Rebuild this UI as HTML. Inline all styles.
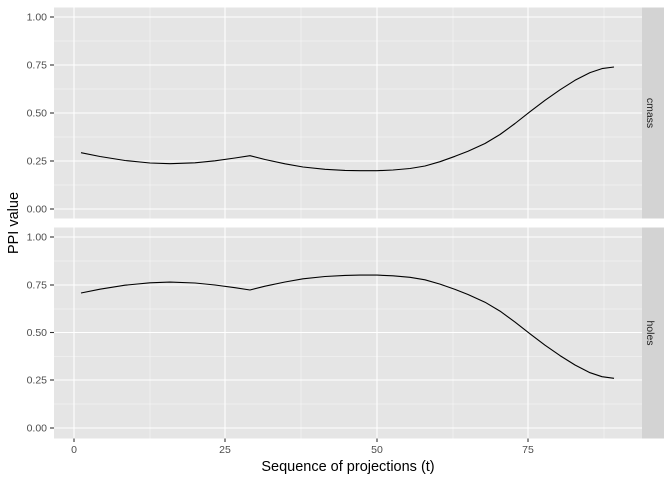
<!DOCTYPE html><html><head><style>body{margin:0;background:#fff}</style></head><body>
<svg width="672" height="480" xmlns="http://www.w3.org/2000/svg" font-family="Liberation Sans, sans-serif">
<rect width="672" height="480" fill="#fff"/>
<g id="p1">
<rect x="54" y="7.5" width="588" height="211" fill="#e5e5e5"/>
<g stroke="#f7f7f7" stroke-width="0.6">
<line x1="54" x2="642" y1="185" y2="185"/><line x1="54" x2="642" y1="137" y2="137"/><line x1="54" x2="642" y1="89" y2="89"/><line x1="54" x2="642" y1="41" y2="41"/>
<line y1="7.5" y2="218.5" x1="150" x2="150"/><line y1="7.5" y2="218.5" x1="301" x2="301"/><line y1="7.5" y2="218.5" x1="453" x2="453"/><line y1="7.5" y2="218.5" x1="604" x2="604"/>
</g>
<g stroke="#fff" stroke-width="1.1">
<line x1="54" x2="642" y1="209" y2="209"/><line x1="54" x2="642" y1="161" y2="161"/><line x1="54" x2="642" y1="113" y2="113"/><line x1="54" x2="642" y1="65" y2="65"/><line x1="54" x2="642" y1="17" y2="17"/>
<line y1="7.5" y2="218.5" x1="74" x2="74"/><line y1="7.5" y2="218.5" x1="225" x2="225"/><line y1="7.5" y2="218.5" x1="377" x2="377"/><line y1="7.5" y2="218.5" x1="528" x2="528"/>
</g>
<polyline fill="none" stroke="#000" stroke-width="1.1" stroke-linejoin="round" points="81,152.7 100,156.5 125,160.5 150,163 170,163.7 195,162.8 215,160.8 235,158 250,155.7 265,159.5 285,163.8 303,167 325,169.3 345,170.4 360,170.7 377,170.7 393,170 410,168.5 425,166 440,161.7 455,156.3 468,151.2 485,143.5 500,134.5 515,123.5 530,111.7 545,100.3 560,89.8 575,80.3 590,72.6 602,68.6 614,67"/>
<rect x="642" y="7.5" width="22" height="211" fill="#d3d3d3"/>
<text transform="translate(647,113) rotate(90)" text-anchor="middle" font-size="10.5" fill="#1a1a1a">cmass</text>
</g>
<g id="p2">
<rect x="54" y="227.5" width="588" height="211" fill="#e5e5e5"/>
<g stroke="#f7f7f7" stroke-width="0.6">
<line x1="54" x2="642" y1="404" y2="404"/><line x1="54" x2="642" y1="356.5" y2="356.5"/><line x1="54" x2="642" y1="309" y2="309"/><line x1="54" x2="642" y1="261" y2="261"/>
<line y1="227.5" y2="438.5" x1="150" x2="150"/><line y1="227.5" y2="438.5" x1="301" x2="301"/><line y1="227.5" y2="438.5" x1="453" x2="453"/><line y1="227.5" y2="438.5" x1="604" x2="604"/>
</g>
<g stroke="#fff" stroke-width="1.1">
<line x1="54" x2="642" y1="428" y2="428"/><line x1="54" x2="642" y1="380" y2="380"/><line x1="54" x2="642" y1="332.5" y2="332.5"/><line x1="54" x2="642" y1="285" y2="285"/><line x1="54" x2="642" y1="237" y2="237"/>
<line y1="227.5" y2="438.5" x1="74" x2="74"/><line y1="227.5" y2="438.5" x1="225" x2="225"/><line y1="227.5" y2="438.5" x1="377" x2="377"/><line y1="227.5" y2="438.5" x1="528" x2="528"/>
</g>
<polyline fill="none" stroke="#000" stroke-width="1.1" stroke-linejoin="round" points="81,293 100,289.2 125,285.2 150,282.8 170,282.1 195,283 215,285 235,287.7 250,290 265,286.2 285,282 303,278.8 325,276.5 345,275.4 360,275.1 377,275.1 393,275.8 410,277.3 425,279.8 440,284.1 455,289.4 468,294.5 485,302.2 500,311.1 515,322.1 530,333.8 545,345.2 560,355.6 575,365 590,372.7 602,376.7 614,378.3"/>
<rect x="642" y="227.5" width="22" height="211" fill="#d3d3d3"/>
<text transform="translate(647,333) rotate(90)" text-anchor="middle" font-size="10.5" fill="#1a1a1a">holes</text>
</g>
<g font-size="10.5" fill="#4d4d4d" text-anchor="end">
<text x="47" y="212.5">0.00</text><text x="47" y="164.5">0.25</text><text x="47" y="116.5">0.50</text><text x="47" y="68.5">0.75</text><text x="47" y="20.5">1.00</text>
<text x="47" y="431.5">0.00</text><text x="47" y="383.5">0.25</text><text x="47" y="336">0.50</text><text x="47" y="288.5">0.75</text><text x="47" y="240.5">1.00</text>
</g>
<g stroke="#333" stroke-width="1.1">
<line x1="50" x2="54" y1="209" y2="209"/><line x1="50" x2="54" y1="161" y2="161"/><line x1="50" x2="54" y1="113" y2="113"/><line x1="50" x2="54" y1="65" y2="65"/><line x1="50" x2="54" y1="17" y2="17"/>
<line x1="50" x2="54" y1="428" y2="428"/><line x1="50" x2="54" y1="380" y2="380"/><line x1="50" x2="54" y1="332.5" y2="332.5"/><line x1="50" x2="54" y1="285" y2="285"/><line x1="50" x2="54" y1="237" y2="237"/>
<line y1="438.5" y2="442" x1="74" x2="74"/><line y1="438.5" y2="442" x1="225" x2="225"/><line y1="438.5" y2="442" x1="377" x2="377"/><line y1="438.5" y2="442" x1="528" x2="528"/>
</g>
<g font-size="10.5" fill="#4d4d4d" text-anchor="middle">
<text x="74" y="453">0</text><text x="225" y="453">25</text><text x="377" y="453">50</text><text x="528" y="453">75</text>
</g>
<text x="348" y="471" text-anchor="middle" font-size="14.5" fill="#000">Sequence of projections (t)</text>
<text transform="translate(18,223) rotate(-90)" text-anchor="middle" font-size="14.5" fill="#000">PPI value</text>
</svg>
</body></html>
